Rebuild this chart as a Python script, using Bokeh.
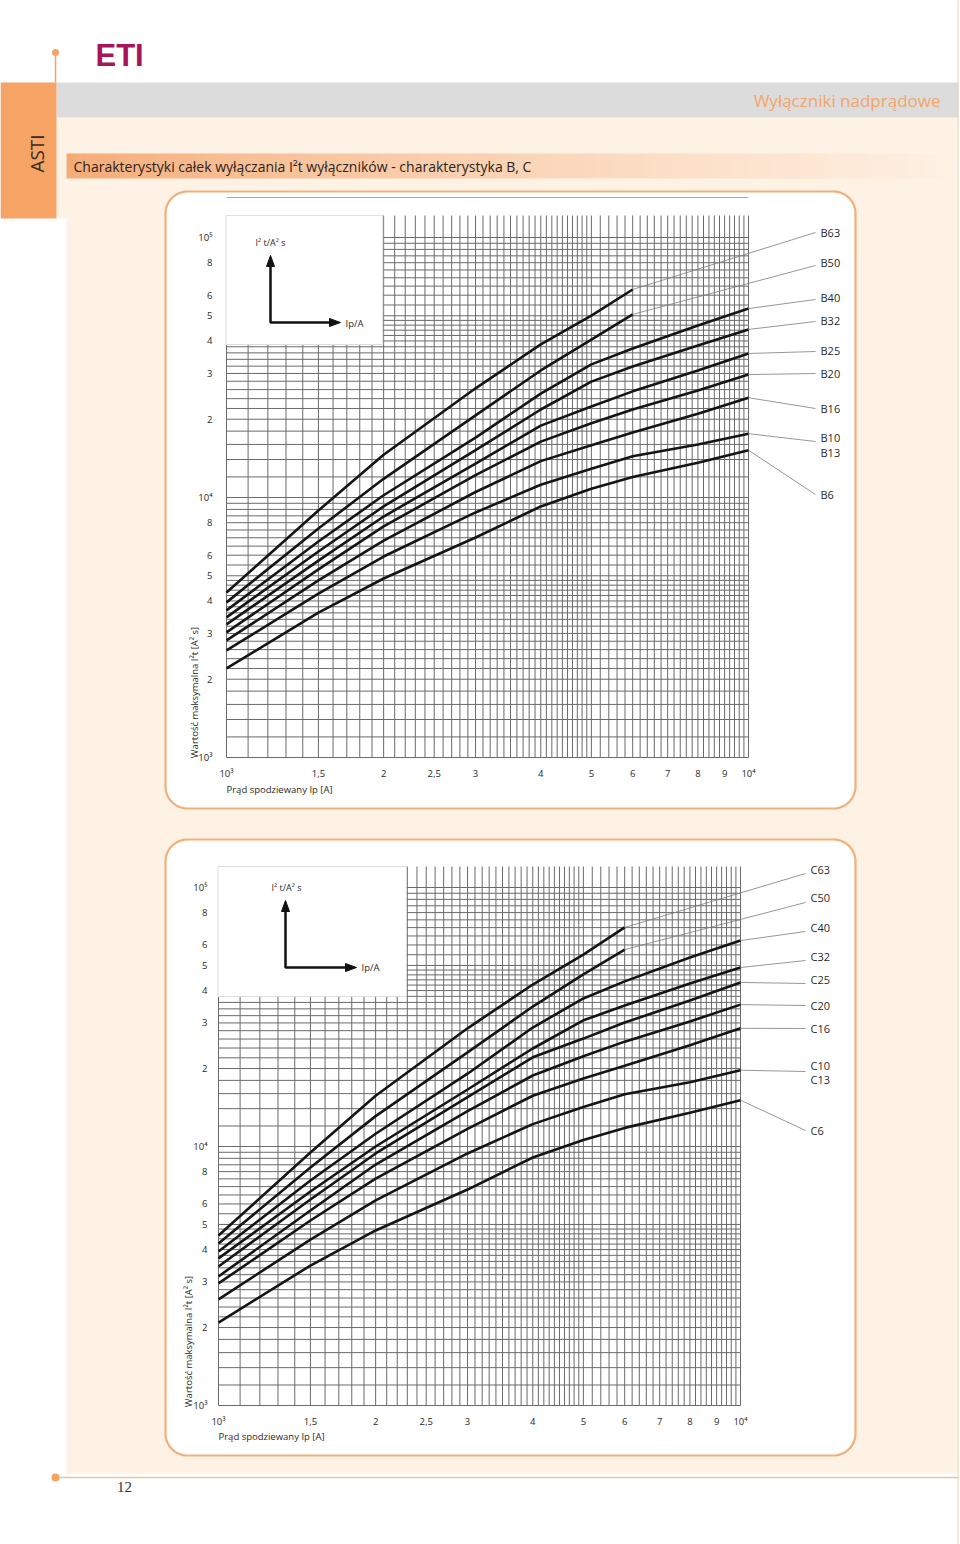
import numpy as np
from bokeh.plotting import figure
from bokeh.models import Range1d, LogScale
from bokeh.core.properties import value
from bokeh.embed import file_html
from bokeh.resources import INLINE

# ---------------- data (prospective current Ip [A] -> max I2t [A2s]) ----------------
currents = [1000, 1500, 2000, 3000, 4000, 5000, 6000, 8000, 10000]

b_names = ["B63", "B50", "B40", "B32", "B25", "B20", "B16", "B10", "B6"]
B63 = [4310, 8910, 14600, 26300, 38800, 50100, 63100]
B50 = [3950, 7600, 11800, 20700, 30800, 40500, 50600]
B40 = [3680, 6770, 10200, 17000, 25100, 32500, 37400, 45900, 53300]
B32 = [3460, 6200, 9240, 15200, 21800, 27900, 31900, 38400, 44300]
B25 = [3250, 5720, 8450, 13500, 18900, 22400, 25600, 30800, 35800]
B20 = [3030, 5290, 7740, 12200, 16400, 19300, 21800, 25800, 29700]
B16 = [2820, 4800, 6830, 10500, 13800, 15900, 17800, 21000, 24200]
B10 = [2580, 4270, 5930, 8760, 11200, 12900, 14400, 16000, 17600]
B6 = [2200, 3610, 4880, 7020, 9240, 10800, 12000, 13600, 15200]
b_series = [B63, B50, B40, B32, B25, B20, B16, B10, B6]

c_names = ["C63", "C50", "C40", "C32", "C25", "C20", "C16", "C10", "C6"]
C63 = [4530, 9480, 15700, 28600, 42200, 55100, 70100]
C50 = [4220, 8300, 13100, 23100, 34700, 46200, 57600]
C40 = [3930, 7390, 11200, 19100, 28800, 37300, 43400, 53700, 62400]
C32 = [3700, 6700, 10000, 16600, 23900, 30700, 35000, 42600, 49100]
C25 = [3440, 6240, 9400, 15500, 22100, 26100, 30100, 36600, 43000]
C20 = [3150, 5660, 8520, 13700, 18800, 22300, 25400, 30400, 35300]
C16 = [2960, 5180, 7520, 11700, 15700, 18300, 20500, 24600, 28600]
C10 = [2570, 4370, 6190, 9400, 12200, 14200, 15900, 17700, 19700]
C6 = [2090, 3470, 4740, 6820, 9070, 10600, 11800, 13500, 15100]
c_series = [C63, C50, C40, C32, C25, C20, C16, C10, C6]

x_tick_values = [1000, 1500, 2000, 2500, 3000, 4000, 5000, 6000, 7000, 8000, 9000, 10000]
x_tick_labels = ["10³", "1,5", "2", "2,5", "3", "4", "5", "6", "7", "8", "9", "10⁴"]
y_tick_values = [1000, 2000, 3000, 4000, 5000, 6000, 8000, 10000,
                 20000, 30000, 40000, 50000, 60000, 80000, 100000]
y_tick_labels = ["10³", "2", "3", "4", "5", "6", "8", "10⁴",
                 "2", "3", "4", "5", "6", "8", "10⁵"]

# ---------------- layout / styles ----------------
W, H = 960, 1544
FONT = value("Open Sans")
ORANGE = "#f5a466"
BOX_LINE = "#efb07c"
CREAM = "#fef2e4"
GRID = "#6a6a6a"
TXT = "#2a2a2a"

p = figure(width=W, height=H, x_range=Range1d(0, W), y_range=Range1d(H, 0),
           x_axis_location=None, y_axis_location=None, toolbar_location=None,
           output_backend="svg", min_border=0)
p.outline_line_color = None
p.grid.visible = False
p.background_fill_color = "white"
p.border_fill_color = "white"


def rounded_rect(x0, y0, x1, y1, r, n=14):
    xs, ys = [], []
    for cx, cy, a0, a1 in [(x1 - r, y0 + r, -90, 0), (x1 - r, y1 - r, 0, 90),
                           (x0 + r, y1 - r, 90, 180), (x0 + r, y0 + r, 180, 270)]:
        for t in np.linspace(np.radians(a0), np.radians(a1), n):
            xs.append(cx + r * np.cos(t))
            ys.append(cy + r * np.sin(t))
    return xs, ys


# page decoration
p.quad(left=66, right=957, top=117, bottom=1473, fill_color=CREAM, line_color=None)
p.quad(left=56, right=66, top=117, bottom=218, fill_color=CREAM, line_color=None)
p.quad(left=56, right=958, top=82, bottom=117, fill_color="#dcdcdc", line_color=None)
p.quad(left=0, right=56, top=82, bottom=218, fill_color=ORANGE, line_color=None)
p.text(x=[36], y=[153], text=["ASTI"], angle=np.pi / 2, text_font=FONT,
       text_font_size="19px", text_color="#3a2a22", text_align="center", text_baseline="middle")
p.line(x=[55, 55], y=[52, 82], line_color=ORANGE, line_width=1.5)
p.scatter(x=[55], y=[52], size=7, fill_color=ORANGE, line_color=None)
p.text(x=[95], y=[55], text=["ETI"], text_font=value("Liberation Sans"), text_font_style="bold",
       text_font_size="31px", text_color="#a8145a", text_align="left", text_baseline="middle")
p.text(x=[940], y=[100], text=["Wyłączniki nadprądowe"], text_font=FONT, text_font_size="17px",
       text_color="#f2a66a", text_align="right", text_baseline="middle")
p.line(x=[957.5, 957.5], y=[0, H], line_color="#e6d2bd", line_width=1)

# title bar gradient
n = 90
edges = np.linspace(66, 945, n + 1)
c0 = np.array([246, 170, 116])
c1 = np.array([254, 240, 226])
tt = np.linspace(0, 1, n) ** 0.75
cols = ["#%02x%02x%02x" % tuple((c0 + (c1 - c0) * t).astype(int)) for t in tt]
p.quad(left=edges[:-1], right=edges[1:] + 0.6, top=153, bottom=178, fill_color=cols, line_color=None)
p.text(x=[73], y=[166], text=["Charakterystyki całek wyłączania I²t  wyłączników - charakterystyka B, C"],
       text_font=FONT, text_font_size="14px", text_color="#2e2420", text_align="left", text_baseline="middle")

# footer
p.line(x=[55, 958], y=[1477, 1477], line_color="#f0c298", line_width=1.5)
p.scatter(x=[55], y=[1477], size=8, fill_color=ORANGE, line_color=None)
p.text(x=[124], y=[1486], text=["12"], text_font=value("Liberation Serif"), text_font_size="15px",
       text_color="#333333", text_align="center", text_baseline="middle")

# chart boxes
for (bx0, by0, bx1, by1) in [(165, 191, 855, 808), (165, 839, 855, 1455)]:
    xs, ys = rounded_rect(bx0, by0, bx1, by1, 22)
    p.patch(xs, ys, fill_color="white", line_color=BOX_LINE, line_width=2.2)

charts = [
    dict(key="b", names=b_names, series=b_series, x0=226, dx=522, y0=757, dy=260, top_px=215,
         inset_right=2000, inset_bottom_px=344,
         xtick_py=773, ytick_px=212, xtitle=(226, 789), ytitle=(194, 692),
         arrow=(270, 322, 255, 340), ilabel=(255, 242), iplabel=(345, 323),
         lead_px=815, lab_px=820,
         lead_py=[232, 265, 299, 321, 351, 373, 408, 441, 494],
         lab_py=[232, 262, 297, 320, 350, 373, 408, 437, 494], extra_lab=("B13", 452),
         topline=197),
    dict(key="c", names=c_names, series=c_series, x0=218, dx=522, y0=1405, dy=259, top_px=866,
         inset_right=2300, inset_bottom_px=996,
         xtick_py=1421, ytick_px=207, xtitle=(218, 1436), ytitle=(188, 1341),
         arrow=(285, 967, 900, 356), ilabel=(271, 887), iplabel=(361, 967),
         lead_px=805, lab_px=810,
         lead_py=[873, 902, 931, 960, 983, 1005, 1028, 1071, 1130],
         lab_py=[869, 897, 927, 956, 979, 1005, 1028, 1065, 1130], extra_lab=("C13", 1079),
         topline=None),
]

xr, yr, xs_, ys_ = {}, {}, {}, {}
for c in charts:
    xr["x_" + c["key"]] = Range1d(10 ** (3 - c["x0"] / c["dx"]), 10 ** (3 + (W - c["x0"]) / c["dx"]))
    yr["y_" + c["key"]] = Range1d(10 ** (3 - (H - c["y0"]) / c["dy"]), 10 ** (3 + c["y0"] / c["dy"]))
    xs_["x_" + c["key"]] = LogScale()
    ys_["y_" + c["key"]] = LogScale()
p.extra_x_ranges = xr
p.extra_y_ranges = yr
p.extra_x_scales = xs_
p.extra_y_scales = ys_

vgrid = list(range(1000, 5000, 100)) + list(range(5000, 10001, 200))
hgrid = []
for d in [1000, 10000]:
    hgrid += [d * (1 + 0.2 * i) for i in range(20)] + [d * (5 + 0.5 * i) for i in range(10)]
hgrid.append(100000)

for c in charts:
    xn, yn = "x_" + c["key"], "y_" + c["key"]
    ix = lambda px, c=c: 10 ** (3 + (px - c["x0"]) / c["dx"])
    iy = lambda py, c=c: 10 ** (3 + (c["y0"] - py) / c["dy"])
    top_val = iy(c["top_px"])
    kw = dict(x_range_name=xn, y_range_name=yn)

    if c["topline"] is not None:
        p.line(x=[1000, 10000], y=[iy(c["topline"])] * 2, line_color="#a7aaad", line_width=1, **kw)

    # grid
    p.segment(x0=vgrid, x1=vgrid, y0=[1000] * len(vgrid), y1=[top_val] * len(vgrid),
              line_color=GRID, line_width=1, **kw)
    p.segment(x0=[1000] * len(hgrid), x1=[10000] * len(hgrid), y0=hgrid, y1=hgrid,
              line_color=GRID, line_width=1, **kw)
    # inset
    p.quad(left=[ix(c["x0"] - 0.5)], right=[c["inset_right"] * 0.996], bottom=[iy(c["inset_bottom_px"])],
           top=[top_val], fill_color="white", line_color="#dedede", line_width=1, **kw)

    # curves
    for name, ser in zip(c["names"], c["series"]):
        p.line(x=currents[:len(ser)], y=ser, line_color="#151515", line_width=2.6, **kw)

    # leader lines and labels
    ends_x = [currents[len(s) - 1] for s in c["series"]]
    ends_y = [s[-1] for s in c["series"]]
    p.segment(x0=ends_x, y0=ends_y, x1=[ix(c["lead_px"])] * len(ends_x),
              y1=[iy(v) for v in c["lead_py"]], line_color="#7d7d7d", line_width=0.8, **kw)
    lab_names = list(c["names"]) + [c["extra_lab"][0]]
    lab_y = [iy(v) for v in c["lab_py"]] + [iy(c["extra_lab"][1])]
    p.text(x=[ix(c["lab_px"])] * len(lab_names), y=lab_y, text=lab_names, text_font=FONT,
           text_font_size="11px", text_color=TXT, text_align="left", text_baseline="middle", **kw)

    # tick labels
    p.text(x=x_tick_values, y=[c["xtick_py"]] * len(x_tick_values), text=x_tick_labels,
           text_font=FONT, text_font_size="9.5px", text_color=TXT, text_align="center",
           text_baseline="middle", x_range_name=xn)
    p.text(x=[c["ytick_px"]] * len(y_tick_values), y=y_tick_values, text=y_tick_labels,
           text_font=FONT, text_font_size="9.5px", text_color=TXT, text_align="right",
           text_baseline="middle", y_range_name=yn)

    # axis titles
    p.text(x=[c["xtitle"][0]], y=[c["xtitle"][1]], text=["Prąd spodziewany Ip [A]"], text_font=FONT,
           text_font_size="9.5px", text_color=TXT, text_align="left", text_baseline="middle")
    p.text(x=[c["ytitle"][0]], y=[c["ytitle"][1]], text=["Wartość maksymalna I²t [A² s]"], angle=np.pi / 2,
           text_font=FONT, text_font_size="9.5px", text_color=TXT, text_align="center",
           text_baseline="middle")

    # inset axes sketch
    ax, ay, atop, aright = c["arrow"]
    p.line(x=[ax, ax, aright - 8], y=[atop + 8, ay, ay], line_color="#111111", line_width=2.5)
    p.patch(x=[ax - 4, ax, ax + 4], y=[atop + 11, atop, atop + 11], fill_color="#111111", line_color="#111111")
    p.patch(x=[aright - 11, aright, aright - 11], y=[ay - 4, ay, ay + 4], fill_color="#111111", line_color="#111111")
    p.text(x=[c["ilabel"][0]], y=[c["ilabel"][1]], text=["I² t/A² s"], text_font=FONT,
           text_font_size="9px", text_color=TXT, text_align="left", text_baseline="middle")
    p.text(x=[c["iplabel"][0]], y=[c["iplabel"][1]], text=["Ip/A"], text_font=FONT,
           text_font_size="9.5px", text_color=TXT, text_align="left", text_baseline="middle")

open("out.html", "w").write(file_html(p, INLINE))
